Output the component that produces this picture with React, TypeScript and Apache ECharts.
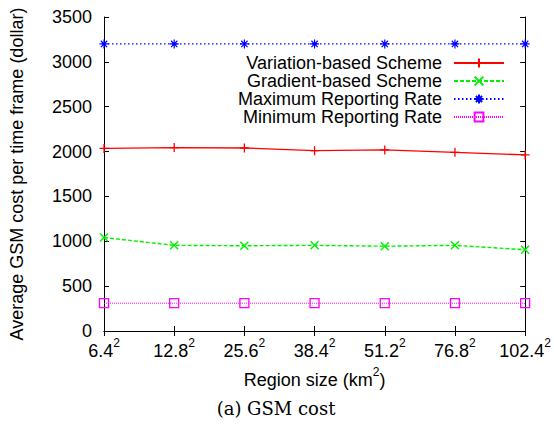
import React, { useEffect, useRef } from "react";
import * as echarts from "echarts";

const categories = ["6.4", "12.8", "25.6", "38.4", "51.2", "76.8", "102.4"];
const variationBased = [2035, 2045, 2040, 2010, 2018, 1992, 1963];
const gradientBased = [1042, 955, 950, 955, 945, 955, 905];
const maxRate = [3200, 3200, 3200, 3200, 3200, 3200, 3200];
const minRate = [310, 310, 310, 310, 310, 310, 310];
const seriesNames = [
  "Variation-based Scheme",
  "Gradient-based Scheme",
  "Maximum Reporting Rate",
  "Minimum Reporting Rate",
];

const FONT = "'Liberation Sans', Arial, Helvetica, sans-serif";
const FS = 18;

export default function App() {
  const ref = useRef<HTMLDivElement>(null);
  useEffect(() => {
    if (!ref.current) return;
    const chart = echarts.init(ref.current, null, { renderer: "svg" });
    const rich = {
      b: { fontFamily: FONT, fontSize: FS, color: "#000", lineHeight: 28 },
      s: { fontFamily: FONT, fontSize: 12, color: "#000", verticalAlign: "top", lineHeight: 12 },
    };
    const legendRows = [54, 72, 90, 108];
    const legends = seriesNames.map((n, i) => ({
      data: [n],
      orient: "vertical",
      right: 49,
      top: legendRows[i],
      align: "right",
      padding: 0,
      itemWidth: 50,
      itemHeight: 11,
      formatter: (name: string) => `{t|${name}}{p| }`,
      textStyle: {
        fontFamily: FONT,
        fontSize: FS,
        color: "#000",
        lineHeight: 18,
        rich: {
          t: { fontFamily: FONT, fontSize: FS, color: "#000", lineHeight: 18 },
          p: { width: 7, fontSize: FS, lineHeight: 18 },
        },
      },
    }));
    const plusPath = "path://M0,-1L0,1M-1,0L1,0";
    const xPath = "path://M-1,-1L1,1M-1,1L1,-1";
    const starPath = "path://M0,-1L0,1M-1,0L1,0M-0.7,-0.7L0.7,0.7M-0.7,0.7L0.7,-0.7";
    const boxPath = "path://M-1,-1L1,-1L1,1L-1,1Z";
    chart.setOption({
      animation: false,
      backgroundColor: "#fff",
      textStyle: { fontFamily: FONT },
      grid: { left: 104, right: 28, top: 17, bottom: 94, containLabel: false },
      legend: legends,
      xAxis: [
        {
          type: "category",
          data: categories,
          boundaryGap: false,
          position: "bottom",
          axisLine: { lineStyle: { color: "#000", width: 1 } },
          axisTick: { inside: true, length: 5, interval: 0, lineStyle: { color: "#000" } },
          axisLabel: {
            margin: 6,
            interval: 0,
            formatter: (v: string) => `{b|${v}}{s|2}`,
            rich,
          },
          splitLine: { show: false },
          name: "{b|Region size (km}{s|2}{b|)}",
          nameLocation: "middle",
          nameGap: 35,
          nameTextStyle: { fontFamily: FONT, fontSize: FS, color: "#000", rich },
        },
        {
          type: "category",
          data: categories,
          boundaryGap: false,
          position: "top",
          axisLine: { lineStyle: { color: "#000", width: 1 } },
          axisTick: { inside: true, length: 5, interval: 0, lineStyle: { color: "#000" } },
          axisLabel: { show: false },
          splitLine: { show: false },
        },
      ],
      yAxis: [
        {
          type: "value",
          min: 0,
          max: 3500,
          interval: 500,
          position: "left",
          axisLine: { show: true, lineStyle: { color: "#000", width: 1 } },
          axisTick: { show: true, inside: true, length: 5, lineStyle: { color: "#000" } },
          axisLabel: {
            margin: 12,
            fontFamily: FONT,
            fontSize: FS,
            color: "#000",
            formatter: (v: number) => String(v),
          },
          splitLine: { show: false },
          name: "Average GSM cost per time frame (dollar)",
          nameLocation: "middle",
          nameGap: 78,
          nameTextStyle: { fontFamily: FONT, fontSize: FS, color: "#000" },
        },
        {
          type: "value",
          min: 0,
          max: 3500,
          interval: 500,
          position: "right",
          axisLine: { show: true, lineStyle: { color: "#000", width: 1 } },
          axisTick: { show: true, inside: true, length: 5, lineStyle: { color: "#000" } },
          axisLabel: { show: false },
          splitLine: { show: false },
        },
      ],
      graphic: [
        {
          type: "text",
          x: 276,
          y: 408,
          style: {
            text: "(a) GSM cost",
            font: "18px 'DejaVu Serif', 'Liberation Serif', serif",
            fill: "#000",
            textAlign: "center",
            textVerticalAlign: "middle",
          },
        },
      ],
      series: [
        {
          name: seriesNames[0],
          type: "line",
          data: variationBased,
          clip: false,
          symbol: plusPath,
          symbolSize: 9,
          itemStyle: { color: "#ff0000", borderColor: "#ff0000", borderWidth: 1.3 },
          lineStyle: { color: "#ff0000", width: 1.3, type: "solid" },
        },
        {
          name: seriesNames[1],
          type: "line",
          data: gradientBased,
          clip: false,
          symbol: xPath,
          symbolSize: 8,
          itemStyle: { color: "#00f000", borderColor: "#00f000", borderWidth: 1.4 },
          lineStyle: { color: "#00f000", width: 1.4, type: [4, 2] },
        },
        {
          name: seriesNames[2],
          type: "line",
          data: maxRate,
          clip: false,
          symbol: starPath,
          symbolSize: 9,
          itemStyle: { color: "#0000ff", borderColor: "#0000ff", borderWidth: 1.2 },
          lineStyle: { color: "#0000ff", width: 1.3, type: [1.5, 2.5] },
        },
        {
          name: seriesNames[3],
          type: "line",
          data: minRate,
          clip: false,
          symbol: boxPath,
          symbolSize: 9,
          itemStyle: { color: "transparent", borderColor: "#ff00ff", borderWidth: 1.3 },
          lineStyle: { color: "#ff00ff", width: 1, type: [1, 1] },
        },
      ],
    });
    return () => chart.dispose();
  }, []);
  return (
    <div
      ref={ref}
      style={{ position: "fixed", left: 0, top: 0, width: 554, height: 425 }}
    />
  );
}
